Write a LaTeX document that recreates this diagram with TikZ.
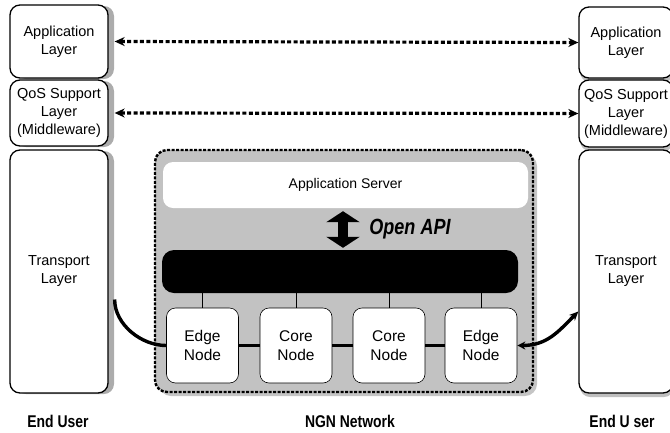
\documentclass[tikz,border=0pt]{standalone}
\usepackage{fontspec}
\setmainfont{Liberation Sans}
\newfontfamily\narrowfont[FakeStretch=0.82]{Liberation Sans}
\usetikzlibrary{arrows.meta,shadows}
\newcommand{\twoline}[2]{#1\\#2}
\tikzset{
  layerbox/.style={draw,line width=1.3pt,rounded corners=10pt,fill=white,align=center,
    inner sep=0pt,minimum width=98pt,font=\fontsize{14.5}{18}\selectfont},
  lshadow/.style={drop shadow={shadow xshift=6pt,shadow yshift=-1pt,fill=black!65}},
  rshadow/.style={drop shadow={shadow xshift=1pt,shadow yshift=-4pt,fill=black!50}},
  netnode/.style={draw,line width=0.6pt,rounded corners=9pt,fill=white,align=center,
    inner sep=0pt,minimum width=72pt,minimum height=75pt,font=\fontsize{15.5}{19.5}\selectfont},
  peerlink/.style={line width=3.2pt,dash pattern=on 4pt off 2.4pt,
    {Stealth[length=10pt,width=9pt]}-{Stealth[length=10pt,width=9pt]}},
  netlink/.style={line width=3.4pt},
  caption/.style={font=\narrowfont\bfseries\fontsize{17}{20}\selectfont},
}

\begin{document}
\begin{tikzpicture}[x=1pt,y=-1pt]
  \useasboundingbox (0,0) rectangle (670,432);

  \node[layerbox,lshadow,minimum height=73pt] (Appl) at (59,41.5) {\twoline{Application}{Layer}};
  \node[layerbox,lshadow,minimum height=66pt] (QoSl) at (59,113) {QoS Support\\Layer\\(Middleware)};
  \node[layerbox,lshadow,minimum height=243pt] (Transl) at (59,271.5) {\twoline{Transport}{Layer}};

  \node[layerbox,rshadow,minimum width=94pt,minimum height=71pt] (Appr) at (626,42.5) {\twoline{Application}{Layer}};
  \node[layerbox,rshadow,minimum width=94pt,minimum height=67pt] (QoSr) at (626,113.5) {QoS Support\\Layer\\(Middleware)};
  \node[layerbox,rshadow,minimum width=94pt,minimum height=243pt] (Transr) at (626,271.5) {\twoline{Transport}{Layer}};

  \node[draw,line width=2.4pt,dash pattern=on 3pt off 1.5pt,rounded corners=12pt,fill=black!24,
        drop shadow={shadow xshift=4pt,shadow yshift=-4pt,fill=black!45},
        minimum width=378pt,minimum height=242pt] (NGN) at (344,271) {};
  \node[fill=white,rounded corners=10pt,minimum width=365pt,minimum height=46pt,
        font=\fontsize{14}{16}\selectfont] (AppSrv) at (345.5,185) {Application Server};
  \node[fill=black,rounded corners=12pt,minimum width=356pt,minimum height=43pt] (Bus) at (340,271.5) {};

  \node[netnode] (EdgeA) at (202.5,345.5) {\twoline{Edge}{Node}};
  \node[netnode] (CoreA) at (296,345.5) {\twoline{Core}{Node}};
  \node[netnode] (CoreB) at (389,345.5) {\twoline{Core}{Node}};
  \node[netnode] (EdgeB) at (481,345.5) {\twoline{Edge}{Node}};

  \foreach \n in {EdgeA,CoreA,CoreB,EdgeB}
    \draw[line width=1pt] (\n.north) -- (\n.north |- Bus.south);
  \draw[netlink] (EdgeA) -- (CoreA);
  \draw[netlink] (CoreA) -- (CoreB);
  \draw[netlink] (CoreB) -- (EdgeB);

  \draw[line width=10pt,{Triangle[length=11pt,width=33pt]}-{Triangle[length=11pt,width=33pt]},shorten <=3pt,shorten >=2pt]
    ([xshift=-2.5pt]AppSrv.south) -- ([xshift=3pt]Bus.north);
  \node[font=\narrowfont\bfseries\itshape\fontsize{22}{24}\selectfont] (API) at (410,229) {Open API};

  \draw[peerlink] ([xshift=6pt]Appl.east) -- (Appr.west);
  \draw[peerlink] ([xshift=6pt]QoSl.east) -- (QoSr.west);

  \draw[netlink] ([xshift=6pt,yshift=-28pt]Transl.east) .. controls +(0,25) and +(-25,0) .. (EdgeA.west);
  \draw[netlink,{Stealth[length=8pt,width=8pt]}-{Stealth[length=9pt,width=8pt]}]
    (EdgeB.east) .. controls +(30,0) and +(-20,20) .. ([yshift=-40pt]Transr.west);

  \node[caption] (UserL) at (58,421) {End User};
  \node[caption] (NetL) at (350,421) {NGN Network};
  \node[caption] (UserR) at (622,421) {End U ser};
\end{tikzpicture}
\end{document}
